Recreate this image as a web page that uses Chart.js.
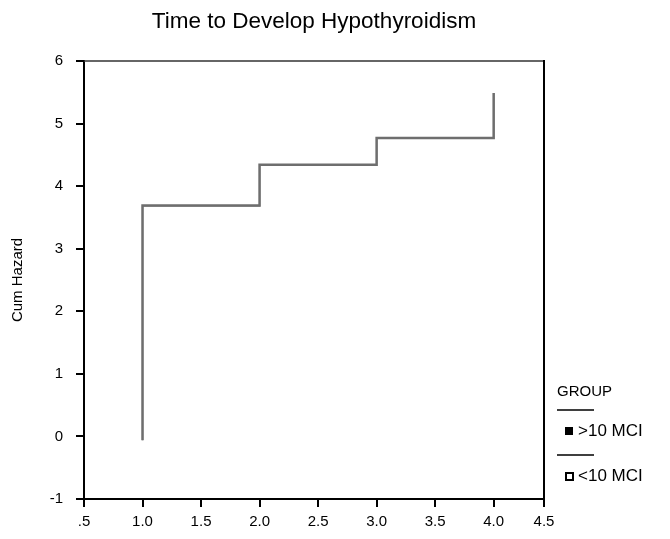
<!DOCTYPE html>
<html>
<head>
<meta charset="utf-8">
<script src="https://cdn.jsdelivr.net/npm/chart.js@4.4.1/dist/chart.umd.min.js"></script>
<style>
html, body { margin: 0; padding: 0; background: #fff; }
#wrap { width: 670px; height: 539px; position: relative; }
</style>
</head>
<body>
<div id="wrap"><canvas id="hazardChart"></canvas></div>
<script>
// chart values
const times = [1, 1, 2, 3, 4];
const hazardOver10 = [-0.06, 3.69, 4.34, 4.77, 5.49];
const hazardUnder10 = [-0.06, 3.68, 4.33, 4.77, 5.49];
const xTickValues = [0.5, 1, 1.5, 2, 2.5, 3, 3.5, 4, 4.43]; // last tick sits on the frame, as in the original
const xTickLabels = ['.5', '1.0', '1.5', '2.0', '2.5', '3.0', '3.5', '4.0', '4.5'];
const yTickLabels = ['-1', '0', '1', '2', '3', '4', '5', '6'];
const groupLabels = ['>10 MCI', '<10 MCI'];
const chartTitle = 'Time to Develop Hypothyroidism';

const FONT = '"Liberation Sans", Arial, sans-serif';

const toPoints = (xs, ys) => xs.map((x, i) => ({ x: x, y: ys[i] }));

// title over the plot, right/top frame lines + the GROUP legend on the right side
const framePlugin = {
  id: 'frame',
  afterDraw(chart) {
    const { ctx, chartArea } = chart;
    ctx.save();
    ctx.fillStyle = '#000';
    ctx.font = '22.5px ' + FONT;
    ctx.textAlign = 'center';
    ctx.textBaseline = 'middle';
    ctx.fillText(chartTitle, (chartArea.left + chartArea.right) / 2, 22);

    ctx.strokeStyle = '#333';
    ctx.lineWidth = 1.5;
    ctx.beginPath();
    ctx.moveTo(chartArea.left, chartArea.top);
    ctx.lineTo(chartArea.right, chartArea.top);
    ctx.stroke();
    ctx.strokeStyle = '#000';
    ctx.lineWidth = 2;
    ctx.beginPath();
    ctx.moveTo(chartArea.right, chartArea.top - 1);
    ctx.lineTo(chartArea.right, chartArea.bottom + 1);
    ctx.stroke();

    // legend
    const lx = 557;
    ctx.font = '15px ' + FONT;
    ctx.textAlign = 'left';
    ctx.fillText('GROUP', lx, 392);
    ctx.lineWidth = 1.5;
    ctx.beginPath();
    ctx.moveTo(lx, 410); ctx.lineTo(lx + 37, 410);
    ctx.moveTo(lx, 455); ctx.lineTo(lx + 37, 455);
    ctx.stroke();
    ctx.font = '17px ' + FONT;
    ctx.fillRect(565, 427, 8, 8);
    ctx.fillText(groupLabels[0], 578, 431);
    ctx.lineWidth = 2;
    ctx.strokeRect(566, 473, 7, 7);
    ctx.fillText(groupLabels[1], 578, 476);
    ctx.restore();
  }
};

const ctx = document.getElementById('hazardChart').getContext('2d');
new Chart(ctx, {
  type: 'line',
  data: {
    datasets: [{
      label: groupLabels[0],
      data: toPoints(times, hazardOver10),
      borderColor: '#6e6e6e',
      borderWidth: 2.5,
      stepped: 'before',
      pointRadius: 0,
      fill: false
    }, {
      label: groupLabels[1],
      data: toPoints(times, hazardUnder10),
      borderColor: '#9a9a9a',
      borderWidth: 1.2,
      stepped: 'before',
      pointRadius: 0,
      fill: false
    }]
  },
  options: {
    responsive: true,
    maintainAspectRatio: false,
    animation: false,
    layout: { padding: { left: 0, right: 126, top: 61, bottom: 0 } },
    plugins: {
      legend: { display: false },
      tooltip: { enabled: false },
      title: { display: false }
    },
    scales: {
      x: {
        type: 'linear',
        min: 0.5,
        max: 4.43,
        afterFit: s => { s.height = 40; },
        afterBuildTicks: s => {
          s.ticks = xTickValues.map(v => ({ value: v }));
        },
        ticks: {
          color: '#000',
          font: { family: FONT, size: 15 },
          padding: 6,
          maxRotation: 0,
          autoSkip: false,
          callback: (v, i) => xTickLabels[i]
        },
        grid: { drawOnChartArea: false, drawTicks: true, tickLength: 8, color: '#000', lineWidth: 2 },
        border: { display: true, color: '#000', width: 2 }
      },
      y: {
        type: 'linear',
        min: -1,
        max: 6,
        afterFit: s => { s.width = 84; },
        afterBuildTicks: s => {
          s.ticks = yTickLabels.map(t => ({ value: parseFloat(t) }));
        },
        title: {
          display: true,
          text: 'Cum Hazard',
          color: '#000',
          font: { family: FONT, size: 15 },
          padding: { top: 9, bottom: 0 }
        },
        ticks: {
          color: '#000',
          font: { family: FONT, size: 15 },
          padding: 13,
          autoSkip: false,
          callback: (v, i) => yTickLabels[i]
        },
        grid: { drawOnChartArea: false, drawTicks: true, tickLength: 8, color: '#000', lineWidth: 2 },
        border: { display: true, color: '#000', width: 2 }
      }
    }
  },
  plugins: [framePlugin]
});
</script>
</body>
</html>
